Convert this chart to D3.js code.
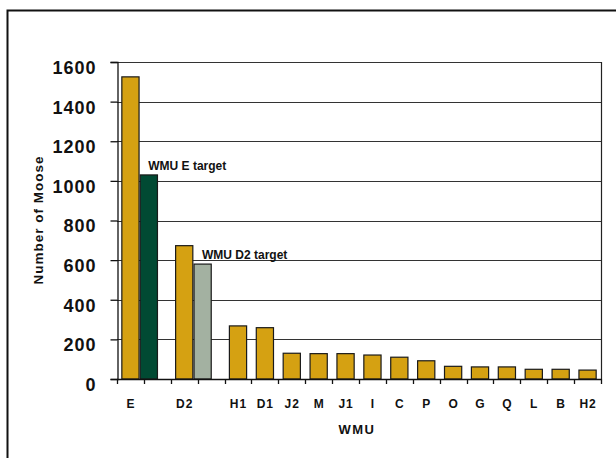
<!DOCTYPE html>
<html>
<head>
<meta charset="utf-8">
<script src="https://cdn.jsdelivr.net/npm/d3@7"></script>
<style>
  html, body { margin: 0; padding: 0; background: #fff; }
  svg { display: block; font-family: "Liberation Sans", Arial, sans-serif; font-weight: bold; }
</style>
</head>
<body>
<svg id="chart" width="616" height="458"></svg>
<script>
// Wildlife Management Units, largest population first; blank slots leave room for target bars
const units = ["E", "", "D2", "", "H1", "D1", "J2", "M", "J1", "I", "C", "P", "O", "G", "Q", "L", "B", "H2"];
// Estimated number of moose per unit (null = empty slot)
const moose = [1525, null, 673, null, 268, 259, 130, 128, 128, 121, 110, 92, 64, 61, 61, 49, 49, 45];
// Population targets for selected units
const targetUnits = ["E", "D2"];
const targetValues = [1030, 580];
const targetLabels = ["WMU E target", "WMU D2 target"];
const targetColors = ["#014a33", "#a3b1a1"];
// Y axis ticks
const yTicks = [0, 200, 400, 600, 800, 1000, 1200, 1400, 1600];

const svg = d3.select("#chart");
const m = { left: 117, right: 601, top: 62, bottom: 379 };

// outer frame
svg.append("rect")
  .attr("x", 7.5).attr("y", 10.5).attr("width", 640).attr("height", 480)
  .attr("fill", "none").attr("stroke", "#111").attr("stroke-width", 2);

const x = d3.scaleBand().domain(d3.range(units.length)).range([m.left, m.right]).padding(0);
const y = d3.scaleLinear().domain([0, 1600]).range([m.bottom, m.top]);
const bw = x.bandwidth() * 0.64;

// gridlines
svg.append("g").selectAll("line").data(yTicks.filter(d => d > 0)).join("line")
  .attr("x1", m.left).attr("x2", m.right)
  .attr("y1", d => Math.round(y(d)) + 0.5).attr("y2", d => Math.round(y(d)) + 0.5)
  .attr("stroke", "#333").attr("stroke-width", 1.2);

// right border of plot
svg.append("line")
  .attr("x1", m.right + 0.5).attr("x2", m.right + 0.5)
  .attr("y1", y(1600)).attr("y2", y(0))
  .attr("stroke", "#222").attr("stroke-width", 1.2);

// estimate bars
const est = moose.map((v, i) => ({ i, v })).filter(d => d.v != null);
svg.append("g").selectAll("rect").data(est).join("rect")
  .attr("x", d => x(d.i) + x.bandwidth() / 2 - bw / 2)
  .attr("y", d => y(d.v))
  .attr("width", bw)
  .attr("height", d => y(0) - y(d.v))
  .attr("fill", "#d5a112")
  .attr("stroke", "#1a1a1a").attr("stroke-width", 1.2);

// target bars, placed beside their unit's estimate bar
const tgt = targetUnits.map((u, k) => ({ i: units.indexOf(u), v: targetValues[k], label: targetLabels[k], color: targetColors[k] }));
const tx = d => x(d.i) + x.bandwidth() / 2 + bw / 2 + 1.2;
svg.append("g").selectAll("rect").data(tgt).join("rect")
  .attr("x", tx)
  .attr("y", d => y(d.v))
  .attr("width", bw)
  .attr("height", d => y(0) - y(d.v))
  .attr("fill", d => d.color)
  .attr("stroke", "#1a1a1a").attr("stroke-width", 1.2);

svg.append("g").selectAll("text").data(tgt).join("text")
  .attr("x", d => tx(d) + 8)
  .attr("y", d => y(d.v) - 5)
  .attr("font-size", 12)
  .attr("fill", "#111")
  .text(d => d.label);

// y axis
const yAxis = svg.append("g").attr("transform", `translate(${m.left + 0.5},0)`)
  .call(d3.axisLeft(y).tickValues(yTicks).tickSize(7).tickPadding(14).tickFormat(d3.format("d")));
yAxis.select(".domain").attr("stroke", "#111").attr("stroke-width", 1.3);
yAxis.selectAll(".tick line").attr("stroke", "#111").attr("stroke-width", 1.3);
yAxis.selectAll(".tick text")
  .attr("font-size", 18).attr("font-family", "Liberation Sans, Arial, sans-serif")
  .attr("font-weight", "bold").attr("letter-spacing", 1).attr("fill", "#111")
  .attr("dy", "0.72em").attr("y", -1.5);

// x axis: baseline with ticks on category boundaries
const bounds = d3.range(units.length + 1).map(i => m.left + i * x.step());
const xg = svg.append("g");
xg.append("line").attr("x1", m.left).attr("x2", m.right + 1)
  .attr("y1", y(0) + 0.5).attr("y2", y(0) + 0.5)
  .attr("stroke", "#111").attr("stroke-width", 1.3);
xg.selectAll(".tk").data(bounds).join("line").attr("class", "tk")
  .attr("x1", d => Math.round(d) + 0.5).attr("x2", d => Math.round(d) + 0.5)
  .attr("y1", y(0)).attr("y2", y(0) + 5)
  .attr("stroke", "#111").attr("stroke-width", 1.3);
xg.selectAll(".lab").data(units.map((u, i) => ({ u, i })).filter(d => d.u)).join("text").attr("class", "lab")
  .attr("x", d => x(d.i) + x.bandwidth() / 2 + 0.5)
  .attr("y", 408)
  .attr("text-anchor", "middle")
  .attr("font-size", 12).attr("letter-spacing", 1).attr("fill", "#111")
  .text(d => d.u);

// axis titles
svg.append("text")
  .attr("x", 357).attr("y", 434)
  .attr("text-anchor", "middle")
  .attr("font-size", 13).attr("letter-spacing", 1.5).attr("fill", "#111")
  .text("WMU");

svg.append("text")
  .attr("transform", "translate(43,220) rotate(-90)")
  .attr("text-anchor", "middle")
  .attr("font-size", 13.5).attr("letter-spacing", 1).attr("fill", "#111")
  .text("Number of Moose");
</script>
</body>
</html>
